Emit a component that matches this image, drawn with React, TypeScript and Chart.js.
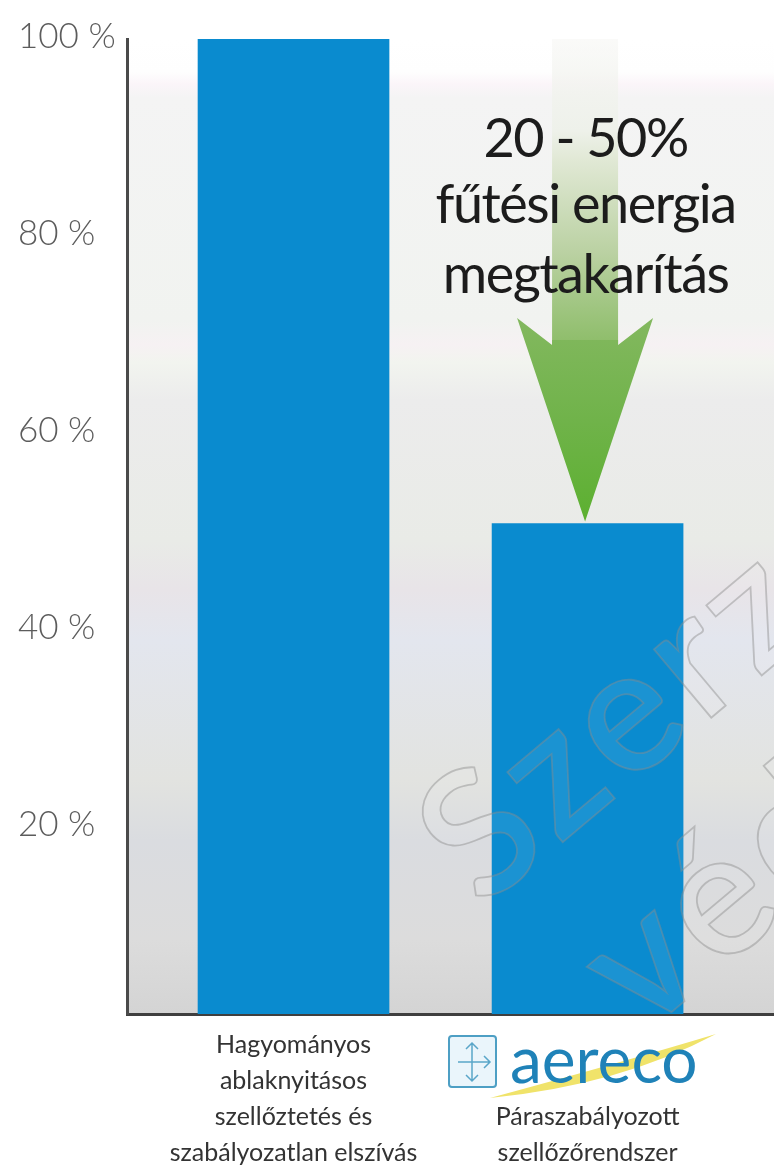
import React, { useEffect, useRef } from "react";
import { Chart, registerables } from "chart.js";

Chart.register(...registerables);

const categoryLabels: string[][] = [
  ["Hagyományos", "ablaknyitásos", "szellőztetés és", "szabályozatlan elszívás"],
  ["", "", "Páraszabályozott", "szellőzőrendszer"],
];
const barPositions = [1, 2];
const savingValues = [100, 50.3];
const tickValues = [20, 40, 60, 80, 100];
const calloutLines = ["20 - 50%", "fűtési energia", "megtakarítás"];
const logoText = "aereco";
const watermarkLines = ["Szerzői", "védelem"];

const FONT = 'Lato, "Open Sans", sans-serif';

const decorations = {
  id: "decorations",
  beforeDraw(chart: any) {
    const { ctx, chartArea: a } = chart;
    ctx.save();
    const g = ctx.createLinearGradient(0, a.top, 0, a.bottom);
    const stops: [number, string][] = [
      [39, "#ffffff"], [72, "#fefefe"], [84, "#fbf5f9"], [98, "#f4f4f4"],
      [320, "#f1f3f0"], [345, "#f6f1f3"], [362, "#f2f4ef"], [400, "#ececec"],
      [540, "#e9ebe7"], [590, "#e8e4e8"], [640, "#e3e6ee"], [780, "#e2e3e0"],
      [840, "#dadce0"], [940, "#dcdcdc"], [1014, "#d4d4d4"],
    ];
    for (const [y, c] of stops) g.addColorStop((y - a.top) / (a.bottom - a.top), c);
    ctx.fillStyle = g;
    ctx.fillRect(a.left, a.top, a.right - a.left, a.bottom - a.top);
    ctx.restore();
  },
  beforeDatasetsDraw(chart: any) {
    const { ctx, chartArea: a } = chart;
    const x = chart.scales.x.getPixelForValue(barPositions[1]) - 2.5;
    const tip = chart.scales.y.getPixelForValue(savingValues[1]) - 2;
    ctx.save();
    const shaft = ctx.createLinearGradient(0, a.top, 0, 345);
    shaft.addColorStop(0, "rgba(245,245,242,0.5)");
    shaft.addColorStop(0.3, "#eef1ea");
    shaft.addColorStop(0.4, "#e0e8d4");
    shaft.addColorStop(0.7, "#bad1a2");
    shaft.addColorStop(1, "#8dbd69");
    ctx.fillStyle = shaft;
    ctx.fillRect(x - 33, a.top, 66, 345 - a.top);
    const head = ctx.createLinearGradient(0, 318, 0, tip);
    head.addColorStop(0, "#83b85f");
    head.addColorStop(0.5, "#70b34a");
    head.addColorStop(1, "#5cb030");
    ctx.fillStyle = head;
    ctx.beginPath();
    ctx.moveTo(x - 68, 318);
    ctx.lineTo(x - 33, 345);
    ctx.lineTo(x - 33, 340);
    ctx.lineTo(x + 33, 340);
    ctx.lineTo(x + 33, 345);
    ctx.lineTo(x + 68, 318);
    ctx.lineTo(x, tip);
    ctx.closePath();
    ctx.fill();
    ctx.restore();
  },
  afterDraw(chart: any) {
    const { ctx } = chart;
    const cx = chart.scales.x.getPixelForValue(barPositions[1]) - 2;
    ctx.save();
    // callout
    ctx.fillStyle = "#1c1c1c";
    ctx.textAlign = "center";
    ctx.textBaseline = "alphabetic";
    ctx.font = `54px ${FONT}`;
    (ctx as any).letterSpacing = "-1.5px";
    ctx.fillText(calloutLines[0], cx, 157);
    ctx.fillText(calloutLines[1], cx, 223);
    ctx.fillText(calloutLines[2], cx, 293);
    (ctx as any).letterSpacing = "0px";

    // logo
    ctx.strokeStyle = "#4d9fc4";
    ctx.lineWidth = 2;
    ctx.fillStyle = "#eaf5fb";
    ctx.beginPath();
    ctx.roundRect(449, 1036, 47, 51, 3);
    ctx.fill();
    ctx.stroke();
    ctx.strokeStyle = "#5aa6c9";
    ctx.lineWidth = 1.5;
    ctx.beginPath();
    ctx.moveTo(472, 1043); ctx.lineTo(472, 1081);
    ctx.moveTo(466, 1049); ctx.lineTo(472, 1043); ctx.lineTo(478, 1049);
    ctx.moveTo(466, 1075); ctx.lineTo(472, 1081); ctx.lineTo(478, 1075);
    ctx.moveTo(458, 1062); ctx.lineTo(490, 1062);
    ctx.moveTo(484, 1056); ctx.lineTo(490, 1062); ctx.lineTo(484, 1068);
    ctx.stroke();
    ctx.fillStyle = "#f0e36a";
    ctx.beginPath();
    ctx.moveTo(490, 1098);
    ctx.quadraticCurveTo(620, 1085, 716, 1034);
    ctx.quadraticCurveTo(630, 1060, 490, 1098);
    ctx.fill();
    ctx.fillStyle = "#1f82b8";
    ctx.font = `400 64px ${FONT}`;
    ctx.textAlign = "left";
    ctx.fillText(logoText, 510, 1083);

    // watermark
    const marks: [number, number][] = [[482, 910], [643, 1036]];
    marks.forEach(([x, y], i) => {
      ctx.save();
      ctx.translate(x, y);
      ctx.rotate((-40 * Math.PI) / 180);
      ctx.font = `600 175px ${FONT}`;
      (ctx as any).letterSpacing = "8px";
      ctx.fillStyle = "rgba(255,255,255,0.07)";
      ctx.fillText(watermarkLines[i], 0, 0);
      ctx.strokeStyle = "rgba(140,140,140,0.45)";
      ctx.lineWidth = 1.8;
      ctx.strokeText(watermarkLines[i], 0, 0);
      ctx.restore();
    });
    ctx.restore();
  },
};

export default function App() {
  const ref = useRef<HTMLCanvasElement>(null);
  useEffect(() => {
    const chart = new Chart(ref.current as HTMLCanvasElement, {
      type: "bar",
      data: {
        datasets: [
          {
            data: barPositions.map((x, i) => ({ x, y: savingValues[i] })),
            backgroundColor: "#0a8bcf",
            barThickness: 191,
            borderWidth: 0,
            yAxisID: "y",
            xAxisID: "x",
          },
        ],
      },
      options: {
        animation: false,
        responsive: false,
        layout: { padding: { top: 39, left: 18, right: 0, bottom: 0 } },
        plugins: { legend: { display: false }, tooltip: { enabled: false } },
        scales: {
          x: {
            type: "linear",
            offset: false,
            min: 0.4337,
            max: 2.634,
            grid: { display: false },
            border: { display: true, color: "#3f3f3f", width: 3 },
            afterBuildTicks: (s: any) => {
              s.ticks = barPositions.map((value) => ({ value }));
            },
            afterFit: (s: any) => {
              s.height = 156;
            },
            ticks: {
              autoSkip: false,
              maxRotation: 0,
              padding: 5,
              color: "#333333",
              font: { family: FONT, size: 25, lineHeight: "36px" },
              callback: (v: any) => categoryLabels[barPositions.indexOf(v)] ?? "",
            },
          },
          y: { display: false, min: 0, max: 100 },
          y2: {
            axis: "y",
            position: "left",
            min: 0.81,
            max: 99.8,
            grid: { display: false },
            border: { display: true, color: "#4a4a4a", width: 3 },
            afterBuildTicks: (s: any) => {
              s.ticks = tickValues.map((value) => ({ value }));
            },
            afterFit: (s: any) => {
              s.width = 109;
            },
            ticks: {
              crossAlign: "far",
              padding: 12,
              color: "#5c5c5c",
              font: { family: FONT, size: 35, weight: 300 },
              callback: (v: any) => `${v} %`,
            },
          },
        } as any,
      },
      plugins: [decorations],
    } as any);
    return () => chart.destroy();
  }, []);
  return (
    <div style={{ position: "absolute", left: 0, top: 0 }}>
      <canvas ref={ref} width={774} height={1170} style={{ display: "block" }} />
    </div>
  );
}
